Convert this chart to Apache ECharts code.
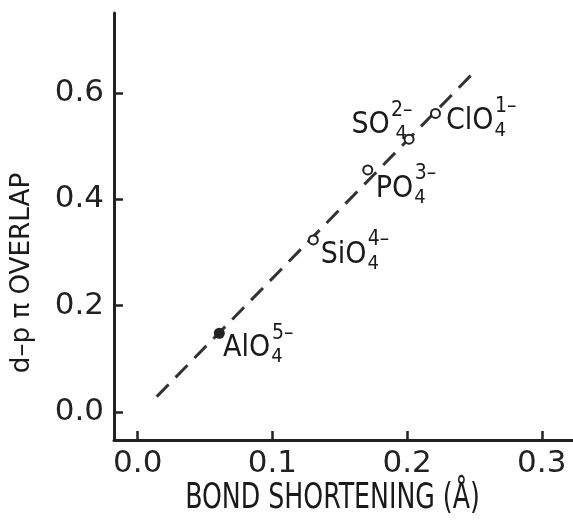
<!DOCTYPE html>
<html><head><meta charset="utf-8">
<script src="https://cdn.jsdelivr.net/npm/echarts@6/dist/echarts.min.js"></script>
<style>html,body{margin:0;padding:0;background:#fff}#c{width:573px;height:528px}</style>
</head><body><div id="c"></div>
<script>
// ---- data ----
const ionBase = ['AlO', 'SiO', 'PO', 'SO', 'ClO'];
const ionSub = ['4', '4', '4', '4', '4'];
const ionCharge = ['5–', '4–', '3–', '2–', '1–'];
const ionFilled = [true, false, false, false, false];
const bondShortening = [0.0606, 0.1304, 0.1708, 0.2015, 0.2211];
const overlap = [0.148, 0.3237, 0.4556, 0.5134, 0.562];
const fitX = [0.0141, 0.2497];
const fitY = [0.0286, 0.6395];
const xTicks = [0, 0.1, 0.2, 0.3];
const yTicks = [0, 0.2, 0.4, 0.6];
const xTitle = 'BOND SHORTENING (Å)';
const yTitle = 'd–p π OVERLAP';

// ---- style / layout ----
const INK = '#222';
const TXT = '#1a1a1a';
const NUM_FONT = "'DejaVu Sans', sans-serif";
const LBL_FONT = "'Liberation Sans Narrow', 'DejaVu Sans Condensed', 'Liberation Sans', sans-serif";
const MAIN_SIZE = 30;
const labelLayout = [
  { pos: [9.2, 3.5], align: 'left' },
  { pos: [12.9, 3.5], align: 'left' },
  { pos: [13.5, 7.5], align: 'left' },
  { pos: [8.5, -25.5], align: 'right' },
  { pos: [16, -3.5], align: 'left' }
];

const ctx = document.createElement('canvas').getContext('2d');
ctx.font = MAIN_SIZE + 'px ' + LBL_FONT;

const scatterData = bondShortening.map((x, i) => {
  const mw = Math.ceil(ctx.measureText(ionBase[i]).width);
  return {
    value: [x, overlap[i]],
    symbol: ionFilled[i] ? 'circle' : 'emptyCircle',
    symbolSize: ionFilled[i] ? 11 : 9,
    itemStyle: { color: INK, borderColor: INK, borderWidth: ionFilled[i] ? 0 : 2, opacity: 1 },
    label: {
      show: true,
      position: labelLayout[i].pos,
      align: labelLayout[i].align,
      verticalAlign: 'top',
      color: TXT,
      opacity: 1,
      fontFamily: LBL_FONT,
      formatter: '{sup|' + ionCharge[i] + '}\n{m|' + ionBase[i] + '}{s|' + ionSub[i] + '}',
      rich: {
        sup: { fontSize: 21, fontFamily: LBL_FONT, color: TXT, lineHeight: 4, height: 4, verticalAlign: 'top',
               padding: [0, 0, 0, mw + 1], width: 21, align: 'left' },
        m: { fontSize: MAIN_SIZE, fontFamily: LBL_FONT, color: TXT, lineHeight: 32, height: 26, verticalAlign: 'top',
             padding: [0, 0, 6, 0] },
        s: { fontSize: 20, fontFamily: LBL_FONT, color: TXT, lineHeight: 32, height: 20, verticalAlign: 'top',
             padding: [12, 0, 0, 1], width: 21, align: 'left' }
      }
    }
  };
});

const chart = echarts.init(document.getElementById('c'), null, { renderer: 'canvas' });
chart.setOption({
  backgroundColor: '#fff',
  animation: false,
  grid: { left: 114, right: 0, top: 13, bottom: 88, containLabel: false, outerBoundsMode: 'none' },
  xAxis: {
    type: 'value', min: -0.0176, max: 0.3232,
    axisLine: { show: true, onZero: false, lineStyle: { color: INK, width: 3 } },
    axisTick: { show: true, inside: true, length: 9, customValues: xTicks, lineStyle: { color: INK, width: 2.5 } },
    axisLabel: { customValues: xTicks, formatter: v => v.toFixed(1), fontSize: 31, fontFamily: NUM_FONT, color: INK, margin: 8 },
    splitLine: { show: false }
  },
  yAxis: {
    type: 'value', min: -0.053, max: 0.751,
    axisLine: { show: true, onZero: false, lineStyle: { color: INK, width: 3 } },
    axisTick: { show: true, inside: true, length: 9, customValues: yTicks, lineStyle: { color: INK, width: 2.5 } },
    axisLabel: { customValues: yTicks, formatter: v => v.toFixed(1), fontSize: 31, fontFamily: NUM_FONT, color: INK, margin: 10 },
    splitLine: { show: false }
  },
  graphic: [
    { type: 'text', x: 332.5, y: 499, scaleX: 0.78, silent: true,
      style: { text: xTitle, fontSize: 36, fontFamily: LBL_FONT, fill: TXT, align: 'center', verticalAlign: 'middle', textAlign: 'center', textVerticalAlign: 'middle' } },
    { type: 'text', x: 22.5, y: 273, rotation: Math.PI / 2, scaleX: 1.12, silent: true,
      style: { text: yTitle, fontSize: 26, fontFamily: LBL_FONT, fill: TXT, align: 'center', verticalAlign: 'middle', textAlign: 'center', textVerticalAlign: 'middle' } }
  ],
  series: [
    { type: 'line', data: fitX.map((x, i) => [x, fitY[i]]), showSymbol: false, silent: true, z: 1,
      lineStyle: { type: [17, 10], width: 3, color: '#333' } },
    { type: 'scatter', data: scatterData, silent: true, z: 3 }
  ]
});
</script></body></html>
